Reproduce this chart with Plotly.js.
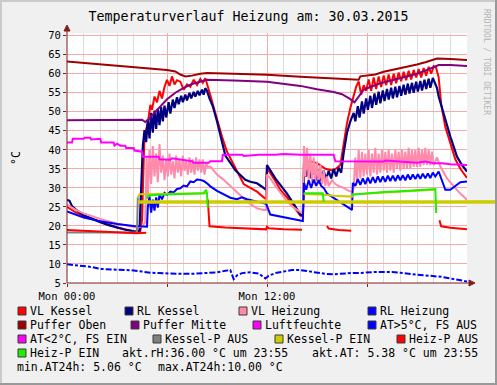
<!DOCTYPE html>
<html><head><meta charset="utf-8">
<script src="https://cdn.plot.ly/plotly-3.0.1.min.js"></script>
<style>html,body{margin:0;padding:0;background:#f0f0f0;overflow:hidden}#chart{width:497px;height:385px}</style>
</head><body><div id="chart"></div>
<script>
// ---------- DATA (hour of day, value in °C / %) ----------
const titleText = 'Temperaturverlauf Heizung am: 30.03.2015';
const seriesNames = ['VL Kessel','RL Kessel','VL Heizung','RL Heizung','Puffer Oben','Puffer Mitte','Luftfeuchte','AT>5°C, FS AUS','AT<2°C, FS EIN','Kessel-P AUS','Kessel-P EIN','Heiz-P AUS','Heiz-P EIN'];
const seriesColors = ['#ff0000','#000080','#ff8aaa','#0000ff','#a00000','#800080','#ff00ff','#0000ff','#ff00ff','#808080','#cccc00','#ff0000','#22ee00'];
const xTickVals = [0,6,12,18];
const xTickText = ['Mon 00:00','','Mon 12:00',''];
const aktRH = '36.00', aktAT = ' 5.38', aktTime = '23:55', minAT24 = ' 5.06', maxAT24 = '10.00';

const vlKessel = [[0,25.0],[0.5,23.6],[1,22.6],[2,21.0],[3,19.6],[4,18.6],[4.2,18.4],[4.4,18.6],[4.5,21.5],[4.65,44],[4.85,47],[5.0,51.8],[5.1,50.5],[5.25,54],[5.4,52.5],[5.55,55.5],[5.7,53.5],[5.85,56.5],[6.0,58.4],[6.15,56.8],[6.3,59.3],[6.45,57.2],[6.6,58.3],[6.8,57.9],[7.0,55.8],[7.2,57.2],[7.4,56.6],[7.6,58.4],[7.8,57.0],[8.0,58.6],[8.15,57.6],[8.3,58.8],[8.45,56.8],[8.6,54.4],[8.75,52],[9.0,48],[9.3,43.5],[9.6,39.5],[10.0,36],[10.3,33.5],[10.6,31],[11.0,30],[11.4,29],[11.8,27.5],[11.95,27],[12.0,35],[12.1,34.5],[12.4,32.5],[12.8,29.5],[13.2,27.5],[13.6,25],[14.0,22.7],[14.15,22.5],[14.25,36],[14.6,37],[15.0,36.5],[15.5,35],[16.0,34.5],[16.4,36],[16.6,42],[16.8,47],[17.0,51],[17.2,54.4],[17.35,56.6],[17.5,58],[17.65,54.5],[17.8,57],[17.95,55.5],[18.1,58.5],[18.25,55.5],[18.4,59],[18.55,56],[18.7,59.3],[18.85,56.5],[19.0,59.5],[19.15,57],[19.3,59.8],[19.45,57],[19.6,60],[19.75,57.5],[19.9,60.3],[20.05,58],[20.2,60.5],[20.35,58.3],[20.5,60.8],[20.65,58.5],[20.8,61],[20.95,59],[21.1,61.2],[21.25,59],[21.4,61.5],[21.55,59.5],[21.7,61.8],[21.85,60],[22.0,62],[22.15,61.5],[22.3,59],[22.45,52],[22.7,46],[23.0,41.5],[23.3,37.5],[23.6,35],[24,32.6]];

const rlKessel = [[0,26.9],[0.15,26.6],[0.3,25.2],[0.5,24.4],[1,22.8],[1.5,21.8],[2,21.0],[2.5,20.2],[3,19.5],[3.5,19.0],[4.0,18.6],[4.2,18.5],[4.35,18.8],[4.45,30],[4.55,41],[4.65,45.2],[4.75,42],[4.85,48],[4.95,43],[5.05,49.7],[5.15,44.5],[5.25,50.3],[5.35,45.5],[5.45,50.8],[5.55,46.5],[5.65,51.2],[5.75,47.5],[5.85,51.6],[5.95,48.5],[6.1,52.5],[6.2,49.5],[6.35,53.2],[6.45,51],[6.6,53.8],[6.7,52],[6.85,54.2],[6.95,52.5],[7.1,54.5],[7.2,53],[7.35,55],[7.45,53.5],[7.6,55.2],[7.7,54],[7.85,55.5],[7.95,54.3],[8.1,55.8],[8.2,54.5],[8.3,56.2],[8.4,55.5],[8.55,53.5],[8.75,51.4],[9.0,47.5],[9.2,44],[9.5,38.5],[9.8,36.6],[10.1,34.6],[10.4,33.4],[10.7,32.1],[11.0,31.6],[11.4,31.2],[11.7,30.3],[11.95,29.5],[12.0,36.0],[12.2,34.5],[12.5,32.5],[12.8,30.8],[13.2,28.5],[13.6,25.8],[14.0,23.0],[14.15,22.8],[14.22,36.5],[14.35,33],[14.5,35.8],[14.65,32.5],[14.8,35.2],[14.95,32],[15.1,34.8],[15.25,31.8],[15.4,34.5],[15.55,32.2],[15.7,34.5],[15.85,32.5],[16.0,35],[16.15,33],[16.3,35.3],[16.45,34],[16.6,39.2],[16.8,44.5],[17.0,47.5],[17.2,49.7],[17.3,47.5],[17.45,51.5],[17.55,48.5],[17.7,52.7],[17.8,49.5],[17.95,53.5],[18.05,50.5],[18.2,54.2],[18.3,51],[18.45,54.8],[18.55,51.8],[18.7,55.3],[18.8,52.2],[18.95,55.6],[19.05,52.8],[19.2,56],[19.3,53.2],[19.45,56.3],[19.55,53.5],[19.7,56.6],[19.8,53.8],[19.95,56.8],[20.05,54.2],[20.2,57.1],[20.3,54.5],[20.45,57.4],[20.55,54.8],[20.7,57.6],[20.8,55],[20.95,57.9],[21.05,55.3],[21.2,58.1],[21.3,55.6],[21.45,58.4],[21.55,56],[21.7,58.7],[21.8,56.3],[21.95,58.9],[22.1,57.5],[22.2,56.2],[22.3,54],[22.5,51],[22.75,47],[23.0,43.5],[23.4,38.2],[23.7,36],[24,34.3]];

const vlHeizung = [[0,25.6],[0.5,24.3],[1,23.3],[2,21.8],[3,20.6],[4,19.8],[4.2,19.6],[4.5,19.8],[4.7,21],[4.78,38],[4.85,27],[4.95,40],[5.05,31],[5.15,41],[5.25,33],[5.35,39],[5.45,31.5],[5.55,41.5],[5.65,34],[5.75,38.5],[5.85,32],[5.95,37.5],[6.05,33],[6.15,39],[6.25,33.5],[6.35,37],[6.45,32.5],[6.55,38.5],[6.65,34],[6.75,37.5],[6.85,33],[6.95,38.5],[7.05,34.5],[7.15,37],[7.25,33.5],[7.35,38],[7.45,34],[7.55,37.5],[7.65,33.5],[7.75,38],[7.85,34.5],[7.95,37.5],[8.05,34],[8.15,37.5],[8.25,33.5],[8.35,36.5],[8.45,35.5],[8.6,35.6],[9.0,33.5],[9.4,32.1],[9.8,30.5],[10.2,28.7],[10.6,27.2],[11.0,25.8],[11.4,24.6],[11.8,24.2],[11.95,24.2],[12.0,33.5],[12.2,32.5],[12.5,30.5],[12.8,28.8],[13.2,26.5],[13.6,24.8],[14.0,23.5],[14.15,23.2],[14.22,41],[14.3,33],[14.4,40.5],[14.5,32],[14.6,39],[14.7,31.5],[14.8,38],[14.9,31.5],[15.0,37],[15.1,31],[15.2,36],[15.3,31],[15.4,34.5],[15.5,30.5],[15.6,33],[15.7,30.5],[15.9,32],[16.1,31],[16.3,30.5],[16.6,30],[16.9,29.2],[17.1,29],[17.2,30],[17.3,38],[17.4,31.5],[17.5,40],[17.6,32.5],[17.7,39.5],[17.8,33],[17.9,39],[18.0,33.5],[18.1,40],[18.2,33],[18.3,39],[18.4,34],[18.5,40.5],[18.6,33.5],[18.7,39],[18.8,34],[18.9,40],[19.0,34.5],[19.1,39.5],[19.2,34],[19.3,40],[19.4,34.5],[19.5,39],[19.6,34],[19.7,40],[19.8,35],[19.9,39.5],[20.0,34.5],[20.1,40],[20.2,35],[20.3,39.5],[20.4,35],[20.5,40.5],[20.6,35],[20.7,40],[20.8,35.5],[20.9,40],[21.0,35.5],[21.1,40.5],[21.2,35.5],[21.3,40],[21.4,36],[21.5,40.5],[21.6,36],[21.7,40],[21.8,36],[21.9,39.5],[22.0,36],[22.2,38],[22.4,35.6],[22.8,32.5],[23.2,30.4],[23.6,28.5],[24,26.9]];

const rlHeizung = [[0,23.8],[0.5,22.9],[1,22.2],[2,21.2],[3,20.5],[4,20.0],[4.5,19.8],[4.8,19.8],[4.85,25],[4.95,27.7],[5.05,23.5],[5.15,26.9],[5.25,24],[5.35,27.5],[5.45,24.8],[5.55,28.2],[5.7,27],[5.85,28.7],[6.0,28.2],[6.2,29],[6.4,28.8],[6.6,29.7],[6.8,29.9],[7.0,30.6],[7.2,30.4],[7.4,31.7],[7.6,31.5],[7.8,32.2],[8.0,32.1],[8.2,31.8],[8.4,31.2],[8.6,30.4],[9.0,29.2],[9.4,28.4],[9.8,27.4],[10.2,27.0],[10.5,27.5],[10.8,27.0],[11.2,26.6],[11.6,26.0],[11.95,25.8],[12.2,23.0],[13.0,22.2],[14.0,21.4],[14.15,21.3],[14.22,31.3],[14.35,29.5],[14.5,32],[14.65,30],[14.8,32.2],[14.95,30.5],[15.1,32],[15.25,30.5],[15.4,30],[15.6,28.5],[16.0,27.3],[16.5,25.8],[17.0,24.3],[17.1,24.2],[17.15,31.3],[17.3,30.5],[17.45,32.3],[17.6,30.8],[17.75,32.5],[17.9,31],[18.05,32.7],[18.2,31.2],[18.35,32.8],[18.5,31.3],[18.65,33],[18.8,31.5],[18.95,33],[19.1,31.6],[19.25,33.2],[19.4,31.8],[19.55,33.2],[19.7,31.8],[19.85,33.3],[20.0,32],[20.15,33.3],[20.3,32],[20.45,33.5],[20.6,32.2],[20.75,33.5],[20.9,32.3],[21.05,33.6],[21.2,32.4],[21.35,33.7],[21.5,32.5],[21.65,33.8],[21.8,32.6],[21.95,34],[22.1,33],[22.3,34.3],[22.5,32],[22.7,29.5],[23.0,29.5],[23.3,30.5],[23.6,31.5],[24,31.7]];

const pufferOben = [[0,63.2],[2,62.5],[4,61.8],[6,61.0],[6.5,60.6],[6.8,59.8],[7.1,59.3],[7.5,59.5],[8.0,60.0],[8.4,60.2],[10,60.0],[12,59.7],[14,59.2],[16,58.8],[17.5,58.4],[17.6,59.3],[18.0,59.5],[18.5,59.8],[19,60.5],[19.5,61.0],[20,61.4],[20.5,61.8],[21,62.4],[21.5,63.0],[22.0,63.7],[22.2,64.0],[23,63.9],[24,63.6]];

const pufferMitte = [[0,47.8],[2,47.9],[4.5,47.9],[4.7,47.3],[4.9,48.0],[5.2,49.5],[5.6,51.5],[6.0,53.3],[6.5,55.0],[7.0,56.3],[7.5,57.3],[8.0,58.0],[8.4,58.4],[10,58.2],[12,57.9],[14,56.8],[15,55.9],[16,55.2],[16.5,54.6],[17.0,53.3],[17.25,52.5],[17.5,54.0],[17.8,55.8],[18.2,56.5],[18.8,57.5],[19.5,58.3],[20.0,58.8],[20.5,59.3],[21.0,60.0],[21.5,60.8],[22.0,61.7],[22.3,62.3],[23,62.3],[24,62.0]];

const luftfeuchte = [[0,41.9],[0.3,41.9],[0.35,42.9],[1.0,42.9],[1.05,43.2],[1.4,43.2],[1.45,42.7],[2.0,42.9],[2.05,41.9],[2.8,41.9],[2.85,41.1],[3.0,41.6],[3.2,41.1],[3.5,41.1],[3.55,40.5],[4.0,40.5],[4.05,39.8],[4.5,39.5],[4.55,38.2],[5.5,38.2],[5.55,37.5],[6.2,37.4],[6.3,37.8],[7.0,37.4],[7.5,37.0],[7.6,36.6],[8.5,36.6],[8.6,37.0],[9.3,37.0],[9.35,38.7],[10.5,38.7],[10.6,38.4],[11.5,38.7],[12.5,38.7],[13,38.9],[14,38.7],[15,38.7],[16.0,38.7],[16.1,37.0],[17.5,37.0],[17.6,36.9],[19.0,36.9],[19.1,37.2],[20,36.9],[21,36.6],[21.5,36.9],[22.0,36.5],[22.5,36.5],[23,36.2],[24,36.0]];

const atAbove5 = [[0,9.9],[0.5,9.7],[1,9.6],[1.5,9.2],[2,8.7],[2.5,8.6],[3,8.6],[3.5,8.5],[4,8.3],[4.5,8.0],[5,7.7],[5.5,7.6],[6,7.5],[6.5,7.4],[7,7.4],[7.5,7.4],[8,7.5],[8.5,7.7],[9,7.8],[9.5,8.2],[9.8,8.4],[10.0,6.0],[10.2,7.0],[10.5,7.6],[11,7.8],[11.5,7.5],[11.9,6.2],[12.1,6.9],[12.5,7.6],[13,8.0],[13.5,8.4],[14,8.4],[14.5,8.1],[15,7.8],[15.5,7.4],[16,7.3],[16.5,7.5],[17,7.6],[17.5,7.6],[18,7.8],[18.5,7.9],[19,7.9],[19.5,7.9],[20,7.7],[20.5,7.4],[21,7.2],[21.5,7.0],[22,6.8],[22.5,6.6],[23,6.2],[23.5,5.8],[24,5.4]];

const atBelow2 = [[0,null]];

const kesselPAus = [[0,18.3],[4.2,18.3],[4.25,27.5]];

const kesselPEin = [[4.25,26.3],[24,26.3]];
const kesselPEinUpper = [[4.25,27.5],[4.35,28.3],[8.45,28.6],[8.5,null],[14.2,28.4],[15.4,28.2],[16.0,27.9],[17.1,27.7],[17.15,28.3],[22.1,29.5],[22.15,null]];

const heizPAus = [[0,18.9],[1,18.7],[2,18.5],[3,18.3],[4.2,18.1],[4.75,18.2],[4.8,null],[8.45,26.9],[8.55,19.9],[9.5,19.6],[10.5,19.4],[11.5,19.2],[11.95,19.1],[12.0,19.8],[12.1,19.4],[13,19.1],[14.1,19.0],[14.15,null],[15.6,20.0],[15.7,19.3],[16.3,18.9],[17.05,18.7],[17.1,null],[22.35,21.5],[22.45,19.9],[23,19.5],[24,19.1]];

const heizPEin = [[4.8,27.2],[4.9,28.0],[5.5,28.2],[6.5,28.4],[7.5,28.5],[8.2,28.6],[8.35,29.5],[8.4,28.4],[8.45,24.8],[8.5,null],[14.2,28.6],[15.0,28.5],[15.35,28.6],[15.4,26.4],[15.45,null],[17.1,28.2],[18,28.6],[19,28.9],[20,29.1],[21,29.4],[22.1,29.7],[22.15,23.4]];

// ---------- STYLE / LAYOUT ----------
const W = 497, H = 385, L = 67, R = 30, T = 33, B = 102;
const yMin = 5, yMax = 70.7;
const mono = 'DejaVu Sans Mono, monospace';
const px = v => (v - L) / (W - L - R);
const py = v => (H - B - v) / (H - T - B);

const seriesData = [vlKessel, rlKessel, vlHeizung, rlHeizung, pufferOben, pufferMitte, luftfeuchte, atAbove5, atBelow2, kesselPAus, kesselPEin, heizPAus, heizPEin];
const lineWidths = [2,2.2,2,2,2,2,2,2,2,2,3.5,2,2];

const traces = [];
seriesData.forEach((d, i) => {
  if (i === 11) {
    traces.push({x: kesselPEinUpper.map(p=>p[0]), y: kesselPEinUpper.map(p=>p[1]), mode:'lines', line:{color:seriesColors[10], width:2}, showlegend:false, hoverinfo:'skip'});
  }
  traces.push({
    x: d.map(p => p[0]), y: d.map(p => p[1]), name: seriesNames[i], mode: 'lines',
    line: {color: seriesColors[i], width: lineWidths[i], dash: i === 7 ? '6px,2px,3px,2px' : 'solid'},
    connectgaps: false, showlegend: false, hoverinfo: 'skip'
  });
});

const shapes = [];
const annotations = [];
const ARROW = '#7f1f1f';
// axis lines with arrows
shapes.push({type:'line', xref:'paper', yref:'paper', x0:0, x1:px(471), y0:0, y1:0, line:{color:ARROW, width:1}});
shapes.push({type:'path', xref:'paper', yref:'paper', path:`M ${px(469)} ${py(280)} L ${px(475)} ${py(283)} L ${px(469)} ${py(286)} Z`, fillcolor:ARROW, line:{color:ARROW, width:1}});
shapes.push({type:'line', xref:'paper', yref:'paper', x0:0, x1:0, y0:0, y1:py(29), line:{color:ARROW, width:1}});
shapes.push({type:'path', xref:'paper', yref:'paper', path:`M ${px(64)} ${py(31)} L ${px(67)} ${py(25)} L ${px(70)} ${py(31)} Z`, fillcolor:ARROW, line:{color:ARROW, width:1}});
// Kessel-P EIN line continues to the canvas edge
const kpLast = kesselPEin[kesselPEin.length - 1][1];
shapes.push({type:'line', xref:'paper', yref:'paper', x0:1, x1:px(W), y0:(kpLast - yMin)/(yMax - yMin), y1:(kpLast - yMin)/(yMax - yMin), line:{color:seriesColors[10], width:3.5}});
// canvas shading border
shapes.push({type:'rect', xref:'paper', yref:'paper', x0:px(0), x1:px(W), y0:py(0), y1:py(2), fillcolor:'#cbcbcb', line:{width:0}});
shapes.push({type:'rect', xref:'paper', yref:'paper', x0:px(0), x1:px(2), y0:py(0), y1:py(H), fillcolor:'#cbcbcb', line:{width:0}});
shapes.push({type:'rect', xref:'paper', yref:'paper', x0:px(W-2), x1:px(W), y0:py(0), y1:py(H), fillcolor:'#999999', line:{width:0}});
shapes.push({type:'rect', xref:'paper', yref:'paper', x0:px(0), x1:px(W), y0:py(H-2), y1:py(H), fillcolor:'#999999', line:{width:0}});

// legend (rrdtool style)
const rowY = [311, 325, 339, 353, 367];
const legendPos = [[0,18],[0,125],[0,239],[0,368],[1,18],[1,131],[1,253],[1,368],[2,18],[2,153],[2,275],[2,397],[3,18]];
const lfont = {family: mono, size: 11.5, color: '#000'};
legendPos.forEach((p, i) => {
  const y = rowY[p[0]], x = p[1];
  shapes.push({type:'rect', xref:'paper', yref:'paper', x0:px(x), x1:px(x+8), y0:py(y-4), y1:py(y+4), fillcolor:seriesColors[i], line:{color:'#3a3a3a', width:1}});
  annotations.push({xref:'paper', yref:'paper', x:px(x+11), y:py(y), xanchor:'left', yanchor:'middle', text:seriesNames[i], showarrow:false, font:lfont, borderpad:0});
});
const extraTexts = [
  [3, 121, `akt.rH:${aktRH} °C um ${aktTime}`],
  [3, 311, `akt.AT:${aktAT} °C um ${aktTime}`],
  [4, 16, `min.AT24h:${minAT24} °C`],
  [4, 157, `max.AT24h:${maxAT24} °C`]
];
extraTexts.forEach(t => annotations.push({xref:'paper', yref:'paper', x:px(t[1]), y:py(rowY[t[0]]), xanchor:'left', yanchor:'middle', text:t[2].replace(/ /g,'&nbsp;'), showarrow:false, font:lfont, borderpad:0}));
annotations.push({xref:'paper', yref:'paper', x:px(487), y:py(62), text:'RRDTOOL / TOBI OETIKER', textangle:90, showarrow:false, font:{family:mono, size:8, color:'#b4b4b4'}, xanchor:'center', yanchor:'middle'});

const layout = {
  width: W, height: H,
  margin: {l: L, r: R, t: T, b: B, pad: 0},
  paper_bgcolor: '#f0f0f0', plot_bgcolor: '#ffffff',
  title: {text: titleText, font: {family: mono, size: 13.3, color: '#000'}, x: 0.5, xref: 'container', xanchor: 'center', y: 1 - 16/H, yref: 'container', yanchor: 'middle'},
  showlegend: false,
  xaxis: {range: [0, 24], tickmode: 'array', tickvals: xTickVals, ticktext: xTickText,
    showgrid: true, gridcolor: '#f6aaaa', gridwidth: 1, zeroline: false, showline: false,
    ticks: 'outside', ticklen: 3, tickcolor: ARROW,
    minor: {tickmode: 'linear', tick0: 0, dtick: 1, showgrid: true, gridcolor: '#dcdcdc', gridwidth: 1, ticks: ''},
    tickfont: {family: mono, size: 10.5, color: '#000'}, fixedrange: true},
  yaxis: {range: [yMin, yMax], tick0: 0, dtick: 5, showgrid: true, gridcolor: '#f6aaaa', gridwidth: 1,
    zeroline: false, showline: false, ticks: 'outside', ticklen: 3, tickcolor: ARROW,
    tickfont: {family: mono, size: 10.5, color: '#000'},
    title: {text: '°C', font: {family: mono, size: 11.5, color: '#000'}, standoff: 25}, fixedrange: true},
  shapes: shapes, annotations: annotations, hovermode: false
};

Plotly.newPlot('chart', traces, layout, {staticPlot: true, displayModeBar: false});
</script></body></html>
